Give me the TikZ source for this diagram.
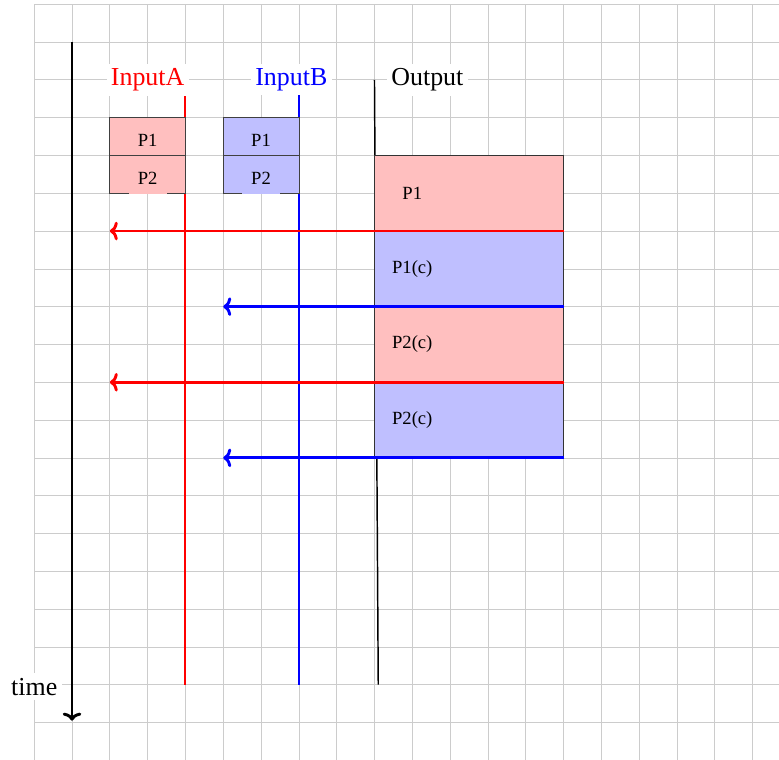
\documentclass[tikz,border=0pt]{standalone}
\usepackage{fontspec}
\setmainfont{Liberation Serif}
\usetikzlibrary{arrows.meta}
\begin{document}
\begin{tikzpicture}[
  gridline/.style={draw=black!20, line width=0.5pt},
  lifeline/.style={line width=1.5pt},
  lbl/.style={fill=white, font=\fontsize{19.5}{23}\selectfont, inner sep=0.333em},
  smallbox/.style={draw=black!75, line width=0.5pt, minimum width=2cm, minimum height=1cm, inner sep=0pt},
  bigbox/.style={draw=black!80, line width=0.5pt, minimum width=5cm, minimum height=2cm, inner sep=0pt},
  boxtext/.style={font=\fontsize{14}{16}\selectfont, inner sep=0pt},
  tip/.style={-{To[length=6pt,width=14pt]}},
  msg/.style={line width=2.2pt, tip},
]
\useasboundingbox (-1.905,-18.97) rectangle (18.7,1.111);
\draw[gridline] (-1,-19.5) grid (19.5,1);

% lifelines
\coordinate (la0) at (3,-1);   \coordinate (la1) at (3,-17);
\coordinate (lb0) at (6,-1);   \coordinate (lb1) at (6,-17);
\coordinate (lo0) at (8,-1);   \coordinate (lo1) at (8.1,-17);
\draw[lifeline, draw=red] (la0) -- (la1);
\draw[lifeline, draw=blue] (lb0) -- (lb1);
\draw[line width=1.1pt, draw=black] (lo0) -- (lo1);

% labels
\node[lbl, text=red] (inA) at (2,-1) {InputA};
\node[lbl, text=blue] (inB) at (5.8,-1) {InputB};
\node[lbl] (out) at (9.4,-1) {Output};
\node[lbl] (time) at (-1,-17.05) {time};

% time axis
\coordinate (t0) at (0,0);
\coordinate (t1) at (0,-17.95);
\draw[line width=2.2pt, tip] (t0) -- (t1);

% small boxes
\node[smallbox, fill=red!25] (a1) at (2,-2.5) {};
\node[smallbox, fill=red!25] (a2) at (2,-3.5) {};
\node[smallbox, fill=blue!25] (b1) at (5,-2.5) {};
\node[smallbox, fill=blue!25] (b2) at (5,-3.5) {};
\fill[red!25] ([xshift=-0.5cm]a2.south) rectangle ([xshift=0.5cm,yshift=0.8pt]a2.south);
\fill[blue!25] ([xshift=-0.5cm]b2.south) rectangle ([xshift=0.5cm,yshift=0.8pt]b2.south);
\node[boxtext] (a1t) at ([yshift=-0.1cm]a1.center) {P1};
\node[boxtext] (a2t) at ([yshift=-0.1cm]a2.center) {P2};
\node[boxtext] (b1t) at ([yshift=-0.1cm]b1.center) {P1};
\node[boxtext] (b2t) at ([yshift=-0.1cm]b2.center) {P2};

% output boxes
\node[bigbox, fill=red!25] (o1) at (10.5,-4) {};
\node[bigbox, fill=blue!25] (o2) at (10.5,-6) {};
\node[bigbox, fill=red!25] (o3) at (10.5,-8) {};
\node[bigbox, fill=blue!25] (o4) at (10.5,-10) {};
\node[boxtext] (o1t) at (9,-4) {P1};
\node[boxtext] (o2t) at (9,-6) {P1(c)};
\node[boxtext] (o3t) at (9,-8) {P2(c)};
\node[boxtext] (o4t) at (9,-10) {P2(c)};

% messages
\coordinate (m1s) at (13,-5);  \coordinate (m1e) at (1,-5);
\coordinate (m2s) at (13,-7);  \coordinate (m2e) at (4,-7);
\coordinate (m3s) at (13,-9);  \coordinate (m3e) at (1,-9);
\coordinate (m4s) at (13,-11); \coordinate (m4e) at (4,-11);
\draw[msg, draw=red] (m1s) -- (m1e);
\draw[msg, draw=blue] (m2s) -- (m2e);
\draw[msg, draw=red] (m3s) -- (m3e);
\draw[msg, draw=blue] (m4s) -- (m4e);
\end{tikzpicture}
\end{document}
